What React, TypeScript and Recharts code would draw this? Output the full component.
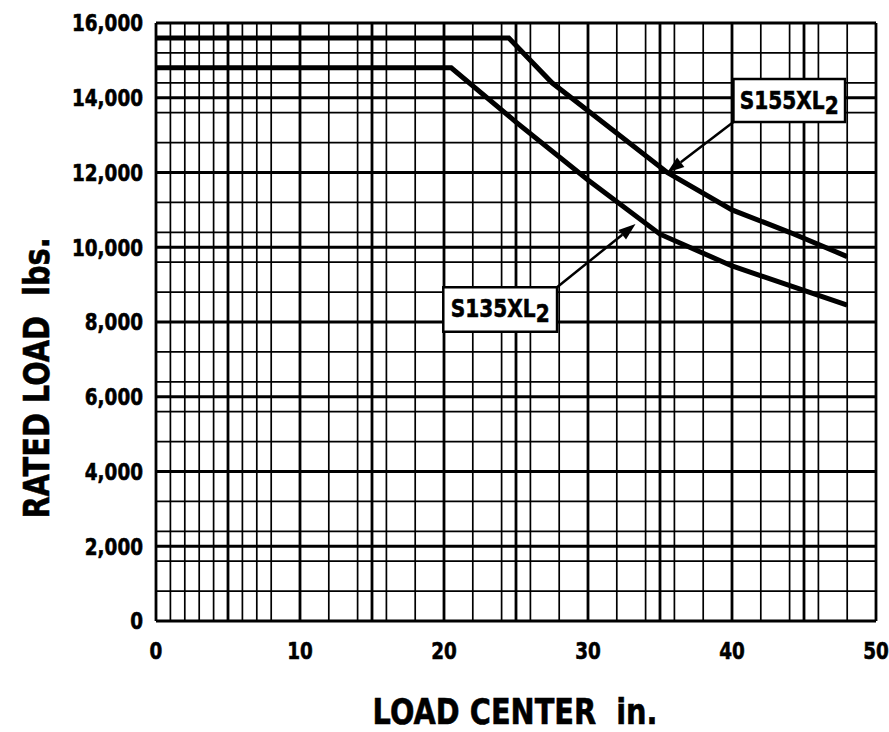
import React from 'react';
import {
    LineChart,
    Line,
    XAxis,
    YAxis,
    CartesianGrid,
    ReferenceArea,
    ReferenceLine
} from 'recharts';

// load center (in.) vs rated load (lbs.)
const s135Center = [0, 20.5, 25, 30, 35, 40, 48];
const s135Load = [14800, 14800, 13350, 11800, 10350, 9500, 8450];
const s155Center = [0, 24.5, 27.5, 30, 35.5, 40, 44, 48];
const s155Load = [15600, 15600, 14400, 13650, 12000, 11000, 10400, 9750];

const xTicks = [0, 10, 20, 30, 40, 50];
const yTicks = [0, 2000, 4000, 6000, 8000, 10000, 12000, 14000, 16000];

const s135Data = s135Center.map((x, i) => ({ x, load: s135Load[i] }));
const s155Data = s155Center.map((x, i) => ({ x, load: s155Load[i] }));

// graph-paper lines
const minorX: number[] = [];
for (let i = 0; i <= 50; i++) minorX.push(i);
const majorX = minorX.filter(v => v % 5 === 0);
const minorY: number[] = [];
for (let v = 0; v <= 16000; v += 400) minorY.push(v);
const majorY = minorY.filter(v => v % 2000 === 0);

const FONT = "'DejaVu Sans', sans-serif";
const SQUEEZE = 0.8;
// a bit of outline makes the bold text look like the heavy condensed original
const heavy = { stroke: '#000', strokeWidth: 0.6 };

const YTick = ({ x, y, payload }: any) => (
    <text
        transform={`translate(${x},${y}) scale(${SQUEEZE},1)`}
        textAnchor="end"
        dy="0.36em"
        fontFamily={FONT}
        fontWeight="bold"
        fontSize={23}
        fill="#000"
        {...heavy}
    >
        {Number(payload.value).toLocaleString('en-US')}
    </text>
);

const XTick = ({ x, y, payload }: any) => (
    <text
        transform={`translate(${x},${y}) scale(${SQUEEZE},1)`}
        textAnchor="middle"
        dy="0.71em"
        fontFamily={FONT}
        fontWeight="bold"
        fontSize={23}
        fill="#000"
        {...heavy}
    >
        {payload.value}
    </text>
);

const BoxLabel = ({ viewBox, name }: any) => {
    const { x, y, width, height } = viewBox;
    return (
        <text
            transform={`translate(${x + width / 2},${y + height / 2 + 8}) scale(0.84,1)`}
            textAnchor="middle"
            fontFamily={FONT}
            fontWeight="bold"
            fontSize={24}
            fill="#000"
            {...heavy}
        >
            {name}
            <tspan dy={5}>2</tspan>
        </text>
    );
};

const Arrow = (props: any) => {
    const { x1, y1, x2, y2 } = props;
    const ang = Math.atan2(y2 - y1, x2 - x1);
    const len = 17;
    const w = 6;
    const bx = x2 - len * Math.cos(ang);
    const by = y2 - len * Math.sin(ang);
    const px = -Math.sin(ang) * w;
    const py = Math.cos(ang) * w;
    return (
        <g>
            <line x1={x1} y1={y1} x2={bx} y2={by} stroke="#000" strokeWidth={2.5} />
            <polygon points={`${x2},${y2} ${bx + px},${by + py} ${bx - px},${by - py}`} fill="#000" />
        </g>
    );
};

const YTitle = ({ viewBox }: any) => {
    const cx = 37;
    const cy = viewBox.y + viewBox.height / 2 + 56;
    return (
        <text
            transform={`translate(${cx},${cy}) rotate(-90) scale(${SQUEEZE},1)`}
            textAnchor="middle"
            dominantBaseline="central"
            fontFamily={FONT}
            fontWeight="bold"
            fontSize={36}
            fill="#000"
            {...heavy}
        >
            RATED LOAD{'\u00a0\u00a0'}lbs.
        </text>
    );
};

const XTitle = () => (
    <text
        transform={`translate(515,724) scale(${SQUEEZE},1)`}
        textAnchor="middle"
        fontFamily={FONT}
        fontWeight="bold"
        fontSize={36}
        fill="#000"
        {...heavy}
    >
        LOAD CENTER{'\u00a0\u00a0'}in.
    </text>
);

export default function App() {
    return (
        <div style={{ position: 'fixed', left: 0, top: 0, width: 889, height: 732, background: '#fff' }}>
            <LineChart
                width={889}
                height={732}
                margin={{ top: 23, right: 13, bottom: 0, left: 0 }}
            >
                <CartesianGrid
                    verticalValues={minorX}
                    horizontalValues={minorY}
                    stroke="#000"
                    strokeWidth={1.7}
                />
                <CartesianGrid
                    verticalValues={majorX}
                    horizontalValues={majorY}
                    stroke="#000"
                    strokeWidth={2.8}
                />
                <XAxis
                    type="number"
                    dataKey="x"
                    domain={[0, 50]}
                    ticks={xTicks}
                    allowDataOverflow
                    height={111}
                    axisLine={false}
                    tickLine={false}
                    tickSize={0}
                    tickMargin={22}
                    tick={<XTick />}
                    label={<XTitle />}
                />
                <YAxis
                    type="number"
                    dataKey="load"
                    domain={[0, 16000]}
                    ticks={yTicks}
                    width={156}
                    axisLine={false}
                    tickLine={false}
                    tickSize={0}
                    tickMargin={13}
                    tick={<YTick />}
                    label={<YTitle />}
                />
                <Line
                    data={s135Data}
                    dataKey="load"
                    type="linear"
                    stroke="#000"
                    strokeWidth={5}
                    dot={false}
                    isAnimationActive={false}
                />
                <Line
                    data={s155Data}
                    dataKey="load"
                    type="linear"
                    stroke="#000"
                    strokeWidth={5}
                    dot={false}
                    isAnimationActive={false}
                />
                <ReferenceLine
                    segment={[{ x: 40.1, y: 13350 }, { x: 35.5, y: 12000 }]}
                    shape={<Arrow />}
                />
                <ReferenceLine
                    segment={[{ x: 27.85, y: 8930 }, { x: 33.3, y: 10620 }]}
                    shape={<Arrow />}
                />
                <ReferenceArea
                    x1={40.1}
                    x2={47.85}
                    y1={13350}
                    y2={14500}
                    fill="#fff"
                    fillOpacity={1}
                    stroke="#000"
                    strokeWidth={2.5}
                    label={<BoxLabel name="S155XL" />}
                />
                <ReferenceArea
                    x1={19.95}
                    x2={27.85}
                    y1={7740}
                    y2={8930}
                    fill="#fff"
                    fillOpacity={1}
                    stroke="#000"
                    strokeWidth={2.5}
                    label={<BoxLabel name="S135XL" />}
                />
            </LineChart>
        </div>
    );
}
